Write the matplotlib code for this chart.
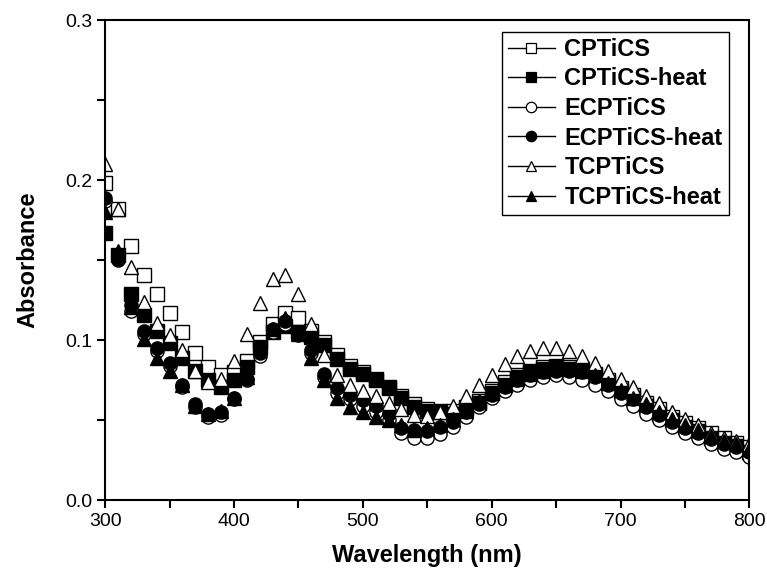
import numpy as np
import matplotlib
matplotlib.use('Agg')
import matplotlib.pyplot as plt
from matplotlib.lines import Line2D

plt.rcParams['font.family'] = ['Liberation Sans', 'DejaVu Sans']

# wavelength grid (nm)
wavelength = np.arange(300, 801, 10)

cptics = [0.198, 0.182, 0.159, 0.141, 0.129, 0.117, 0.105, 0.092, 0.083, 0.078,
          0.080, 0.087, 0.099, 0.110, 0.117, 0.114, 0.106, 0.099, 0.091, 0.084,
          0.080, 0.076, 0.071, 0.065, 0.060, 0.057, 0.056, 0.056, 0.058, 0.062,
          0.068, 0.074, 0.078, 0.081, 0.083, 0.084, 0.083, 0.082, 0.079, 0.075,
          0.070, 0.066, 0.061, 0.057, 0.052, 0.048, 0.045, 0.042, 0.039, 0.036,
          0.033]
cptics_heat = [0.167, 0.153, 0.129, 0.116, 0.106, 0.098, 0.089, 0.081, 0.075, 0.071,
               0.075, 0.083, 0.096, 0.105, 0.109, 0.105, 0.102, 0.097, 0.088, 0.082,
               0.079, 0.075, 0.070, 0.064, 0.058, 0.056, 0.055, 0.054, 0.057, 0.061,
               0.067, 0.072, 0.077, 0.080, 0.082, 0.083, 0.082, 0.081, 0.078, 0.073,
               0.068, 0.064, 0.059, 0.054, 0.050, 0.046, 0.043, 0.039, 0.036, 0.034,
               0.030]
ecptics = [0.187, 0.150, 0.118, 0.104, 0.093, 0.084, 0.071, 0.058, 0.052, 0.053,
           0.063, 0.075, 0.090, 0.105, 0.110, 0.103, 0.092, 0.077, 0.067, 0.063,
           0.059, 0.055, 0.050, 0.042, 0.039, 0.039, 0.0415, 0.046, 0.052, 0.058,
           0.064, 0.068, 0.072, 0.075, 0.077, 0.078, 0.077, 0.075, 0.072, 0.068,
           0.063, 0.059, 0.054, 0.050, 0.046, 0.042, 0.039, 0.035, 0.032, 0.030,
           0.027]
ecptics_heat = [0.189, 0.151, 0.122, 0.106, 0.095, 0.086, 0.072, 0.060, 0.054, 0.055,
                0.064, 0.076, 0.092, 0.107, 0.112, 0.105, 0.094, 0.079, 0.070, 0.066,
                0.0625, 0.059, 0.054, 0.045, 0.044, 0.043, 0.0455, 0.049, 0.055, 0.060,
                0.066, 0.071, 0.075, 0.078, 0.080, 0.081, 0.081, 0.080, 0.077, 0.072,
                0.067, 0.063, 0.058, 0.053, 0.049, 0.045, 0.042, 0.038, 0.035, 0.033,
                0.030]
tcptics = [0.210, 0.182, 0.146, 0.124, 0.111, 0.103, 0.094, 0.081, 0.074, 0.076,
           0.087, 0.104, 0.123, 0.138, 0.141, 0.129, 0.110, 0.091, 0.078, 0.072,
           0.068, 0.065, 0.061, 0.057, 0.053, 0.0525, 0.055, 0.059, 0.065, 0.072,
           0.078, 0.085, 0.090, 0.093, 0.095, 0.095, 0.093, 0.090, 0.086, 0.081,
           0.076, 0.071, 0.065, 0.0605, 0.055, 0.051, 0.047, 0.042, 0.039, 0.037,
           0.035]
tcptics_heat = [0.180, 0.156, 0.121, 0.101, 0.089, 0.081, 0.072, 0.059, 0.054, 0.056,
                0.064, 0.077, 0.096, 0.107, 0.114, 0.104, 0.089, 0.075, 0.064, 0.058,
                0.055, 0.052, 0.050, 0.047, 0.044, 0.045, 0.047, 0.051, 0.056, 0.062,
                0.067, 0.072, 0.076, 0.079, 0.081, 0.082, 0.082, 0.081, 0.078, 0.073,
                0.069, 0.064, 0.060, 0.055, 0.051, 0.047, 0.044, 0.040, 0.037, 0.035,
                0.032]

labels = ['CPTiCS', 'CPTiCS-heat', 'ECPTiCS', 'ECPTiCS-heat', 'TCPTiCS', 'TCPTiCS-heat']
series = [cptics, cptics_heat, ecptics, ecptics_heat, tcptics, tcptics_heat]
markers = ['s', 's', 'o', 'o', '^', '^']
fills = ['white', 'black', 'white', 'black', 'white', 'black']

fig = plt.figure(figsize=(7.67, 5.73), dpi=100)
ax = fig.add_axes([0.137, 0.127, 0.84, 0.838])

handles = []
for y, lab, m, fc in zip(series, labels, markers, fills):
    ax.plot(wavelength, y, linestyle='none', marker=m, markersize=9.5,
            markerfacecolor=fc, markeredgecolor='black', markeredgewidth=1.0)
    handles.append(Line2D([], [], color='black', linewidth=1.0, marker=m, markersize=7.5,
                          markerfacecolor=fc, markeredgecolor='black', markeredgewidth=0.9))

ax.set_xlim(300, 800)
ax.set_ylim(0, 0.3)
ax.set_xticks(np.arange(300, 801, 100))
ax.set_xticks(np.arange(350, 800, 100), minor=True)
ax.set_yticks([0.0, 0.1, 0.2, 0.3])
ax.set_yticks([0.05, 0.15, 0.25], minor=True)
ax.set_yticklabels(['0.0', '0.1', '0.2', '0.3'])
ax.tick_params(which='both', direction='out', length=6, width=1.5, labelsize=14)
for s in ax.spines.values():
    s.set_linewidth(1.5)

ax.set_xlabel('Wavelength (nm)', fontsize=17, fontweight='bold', labelpad=10)
ax.set_ylabel('Absorbance', fontsize=17, fontweight='bold', labelpad=18)

leg = ax.legend(handles, labels, loc='upper right', bbox_to_anchor=(0.975, 0.985),
                fancybox=False, edgecolor='black', framealpha=1,
                prop={'size': 17, 'weight': 'bold'}, handlelength=2.0,
                handletextpad=0.4, labelspacing=0.28, borderpad=0.25, borderaxespad=0.2)
leg.get_frame().set_linewidth(1.0)

fig.savefig('out.png', dpi=100)
